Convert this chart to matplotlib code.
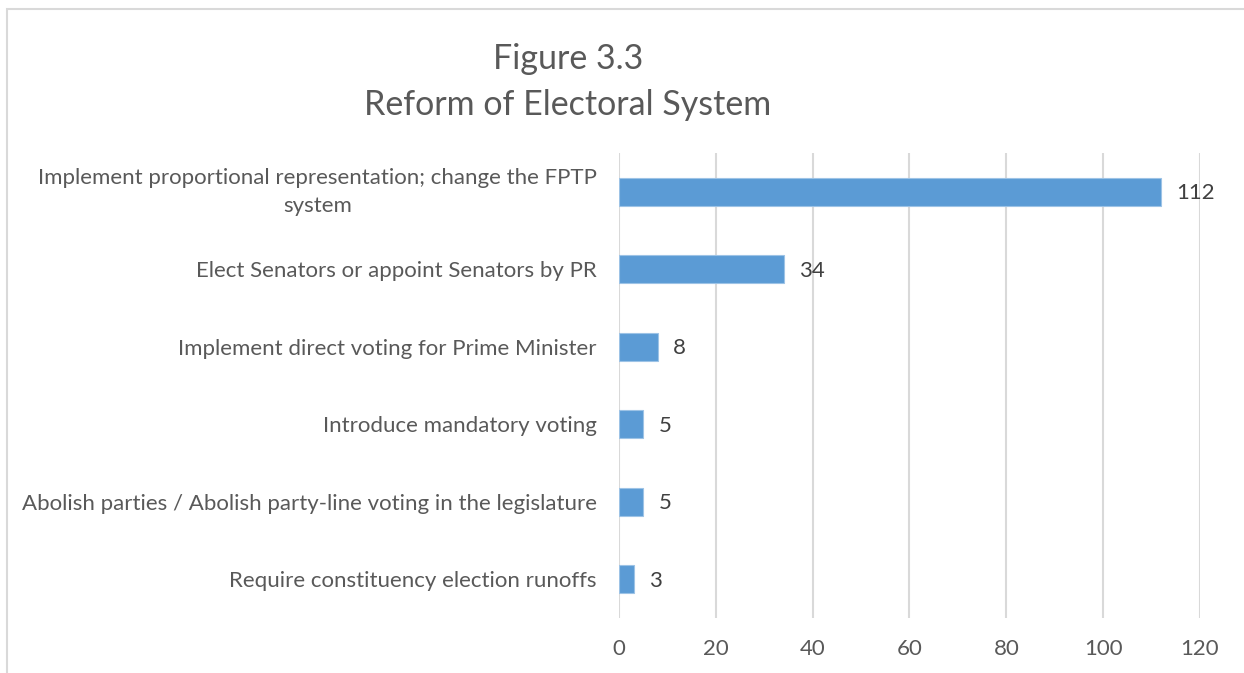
import matplotlib.pyplot as plt
from matplotlib.patches import Rectangle

plt.rcParams['font.family'] = ['Lato', 'DejaVu Sans']

categories = [
    "Implement proportional representation; change the FPTP\nsystem",
    "Elect Senators or appoint Senators by PR",
    "Implement direct voting for Prime Minister",
    "Introduce mandatory voting",
    "Abolish parties / Abolish party-line voting in the legislature",
    "Require constituency election runoffs",
]
counts = [112, 34, 8, 5, 5, 3]
x_ticks = [0, 20, 40, 60, 80, 100, 120]

bar_color = "#5B9BD5"
text_gray = "#595959"
grid_gray = "#D9D9D9"

fig = plt.figure(figsize=(12.44, 6.73), dpi=100)
ax = fig.add_axes([0.4976, 0.0817, 0.4670, 0.6910])

ypos = list(range(len(categories)))
ax.barh(ypos, counts, height=0.36, color=bar_color, edgecolor="#9DC3E6",
        linewidth=0.8, zorder=3)

for y, v in zip(ypos, counts):
    ax.annotate(str(v), (v, y), xytext=(11, -1), textcoords="offset points",
                ha="left", va="center", fontsize=16, color="#404040")

ax.set_ylim(len(categories) - 0.5, -0.5)
ax.set_xlim(0, 120)
ax.set_xticks(x_ticks)
ax.set_yticks(ypos)
ylabels = ax.set_yticklabels(categories, fontsize=16, color=text_gray,
                             multialignment="center", linespacing=1.5)
# centre the two-line label on its bar
ylabels[0].set_va("center")
ax.tick_params(axis="y", length=0, pad=16)
ax.tick_params(axis="x", length=0, pad=15, labelsize=16, labelcolor=text_gray)
ax.xaxis.grid(True, color=grid_gray, linewidth=1.5, zorder=0)
ax.set_axisbelow(True)
for s in ax.spines.values():
    s.set_visible(False)

fig.text(0.4566, 0.912, "Figure 3.3", ha="center", va="center",
         fontsize=24.5, color=text_gray)
fig.text(0.4566, 0.844, "Reform of Electoral System", ha="center", va="center",
         fontsize=24.5, color=text_gray)

# chart frame
fig.patches.append(Rectangle((7 / 1244, -0.1), 1.2, 1 - 9 / 673 + 0.1,
                             transform=fig.transFigure, fill=False,
                             edgecolor=grid_gray, linewidth=1.5))

fig.savefig("out.png", dpi=100, facecolor="white")
